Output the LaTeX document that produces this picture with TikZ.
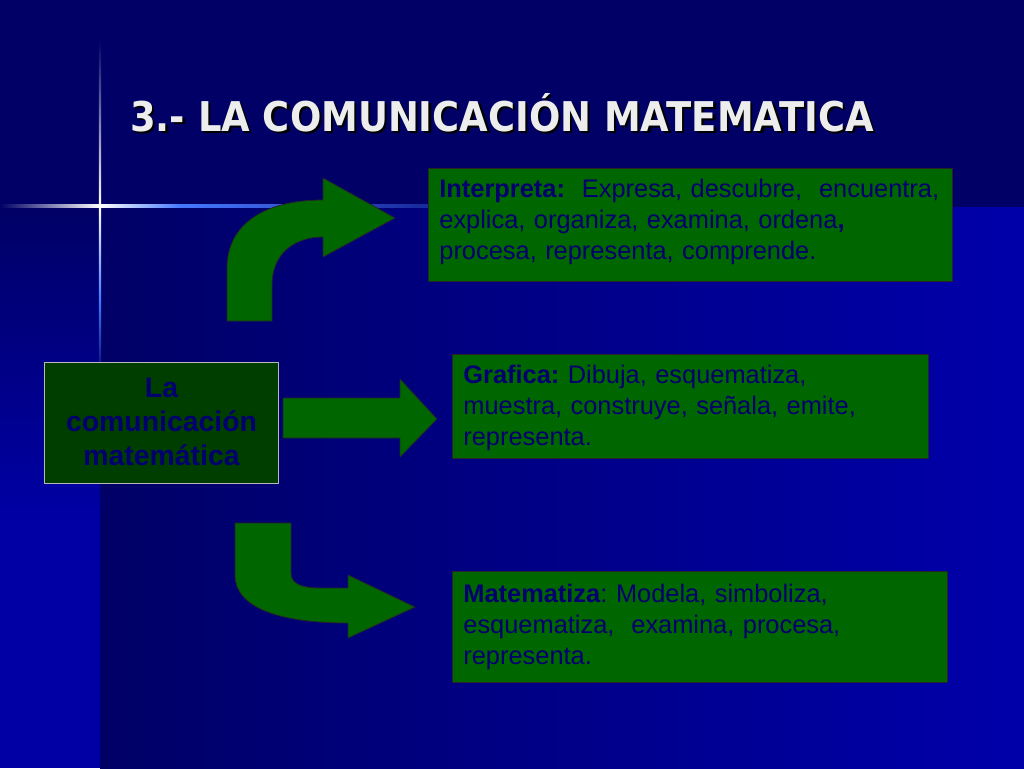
\documentclass[tikz,border=0pt]{standalone}
\usepackage{fontspec}
\setmainfont{Liberation Sans}
\newfontfamily\titlefont{DejaVu Sans}
\usetikzlibrary{positioning}
\frenchspacing
\definecolor{fondo}{RGB}{0,0,102}
\definecolor{fondoclaro}{RGB}{0,0,170}
\definecolor{verde}{RGB}{0,102,0}
\definecolor{verdeosc}{RGB}{0,62,0}
\definecolor{azultexto}{RGB}{0,0,110}
\definecolor{destello}{RGB}{70,120,255}
\newcommand{\sombreado}[1]{\makebox[0pt][l]{\hspace{2.5pt}\raisebox{-2.5pt}{\textcolor{black}{#1}}}#1}
\tikzset{
	caja/.style = {draw = black!85, line width = 0.8pt, fill = verde, text = azultexto, anchor = north west, align = left, inner xsep = 11pt, inner ysep = 0pt, font = \fontsize{25.4}{31}\selectfont},
	origen/.style = {draw = gray!55, line width = 1pt, fill = verdeosc, text = azultexto, anchor = north west, align = center, inner sep = 0pt, font = \fontsize{28.4}{34}\selectfont\bfseries},
	flecha/.style = {draw = black!85, line width = 0.8pt, fill = verde},
	titulo/.style = {anchor = base west, inner sep = 0pt, text = white!93!black, font = \titlefont\fontsize{41}{49}\selectfont\bfseries}
}
\begin{document}
\begin{tikzpicture}[x = 1pt, y = -1pt, line join = round, line cap = round]
	\useasboundingbox (0,0) rectangle (1024,768);
	\fill[fondo] (0,0) rectangle (1024,768);
	\shade[left color = fondo, right color = fondoclaro] (100,207) rectangle (1024,768);
	\shade[top color = fondo, bottom color = fondoclaro!92!fondo] (0,207) rectangle (100,520);
	\fill[fondoclaro!92!fondo] (0,520) rectangle (100,768);
	\shade[left color = fondo, right color = white] (0,204.5) rectangle (100,207);
	\shade[left color = white, right color = destello] (100,204.5) rectangle (180,207);
	\shade[left color = destello, right color = fondo] (180,204.5) rectangle (560,207);
	\shade[top color = fondo, bottom color = white] (98.8,40) rectangle (101.2,206);
	\shade[top color = white, bottom color = destello] (98.8,206) rectangle (101.2,300);
	\shade[top color = destello, bottom color = fondo] (98.8,300) rectangle (101.2,380);
	\node[titulo] (titulo) at (130,131) {\scalebox{0.9}[1]{\sombreado{3.- LA COMUNICACIÓN MATEMATICA}}};
	\path
	(395,218) coordinate (P1)
	(437,419) coordinate (P2)
	(415,607) coordinate (P3)
	;
	\draw[flecha] (227,321) -- (227,268) .. controls (227,226) and (262,200) .. (323,200) -- (323,178) -- (P1) -- (323,257) -- (323,237) .. controls (294,237) and (272,254) .. (272,285) -- (272,321) -- cycle;
	\draw[flecha] (283,398) -- (400,398) -- (400,379) -- (P2) -- (400,457) -- (400,438) -- (283,438) -- cycle;
	\draw[flecha] (235,523) -- (291,523) -- (291,573) .. controls (291,584) and (302,588) .. (320,588) -- (348,588) -- (348,575) -- (P3) -- (348,638) -- (348,623) .. controls (280,623) and (235,608) .. (235,575) -- cycle;
	\node[caja, text width = 502pt, minimum height = 113pt] (interpreta) at (428,168) {\mbox{\textbf{Interpreta:}\ \ Expresa, descubre,\ \ encuentra,}\\\mbox{explica, organiza, examina, ordena\textbf{,}}\\\mbox{procesa, representa, comprende.}\vspace{5pt}};
	\node[caja, text width = 454pt, minimum height = 104pt] (grafica) at (452,354) {\mbox{\textbf{Grafica:} Dibuja, esquematiza,}\\\mbox{muestra, construye, señala, emite,}\\\mbox{representa.}\vspace{-4pt}};
	\node[caja, text width = 473pt, minimum height = 111pt] (matematiza) at (452,571) {\mbox{\textbf{Matematiza}: Modela, simboliza,}\\\mbox{esquematiza,\ \ examina, procesa,}\\\mbox{representa.}};
	\node[origen, minimum width = 234pt, minimum height = 121pt, text width = 226pt] (comunicacion) at (44,362) {La\\comunicación\\matemática\vspace{3pt}};
\end{tikzpicture}
\end{document}
